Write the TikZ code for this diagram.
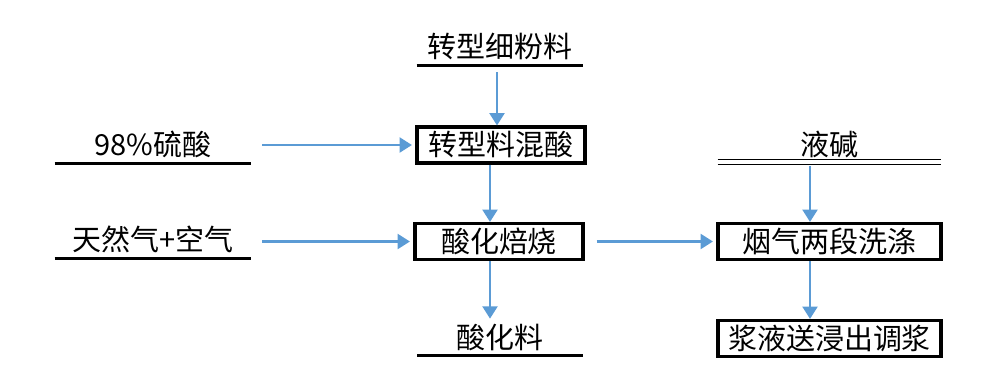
\documentclass[tikz,border=0pt]{standalone}
\usepackage{fontspec}
\setmainfont{Noto Sans CJK SC}
\usepackage{xcolor}
\usetikzlibrary{arrows.meta, positioning, calc}
\definecolor{flowblue}{RGB}{91,155,213}

\begin{document}
\begin{tikzpicture}[x=0.02cm, y=-0.02cm, font=\fontsize{16.5}{18}\selectfont,
    procbox/.style={draw, line width=1.8pt, minimum width=3.36cm, minimum height=0.72cm, inner sep=0pt},
    feed/.style={inner sep=0pt, minimum height=0.76cm},
    flow/.style={flowblue, line width=1.3pt, -{Triangle[width=8.5pt, length=7pt]}},
    underln/.style={line width=1.5pt}]
    \useasboundingbox (0,0) rectangle (999,385);

    % Feed materials (underlined)
    \node[feed, minimum width=3.32cm] (fines) at (500,46) {转型细粉料};
    \node[feed, minimum width=3.92cm] (acid) at (153,144) {98\%硫酸};
    \node[feed, minimum width=3.92cm] (gas) at (153,239) {天然气+空气};
    \node[feed, minimum width=3.30cm, minimum height=0.72cm] (product) at (500,337) {酸化料};
    \node[feed, minimum width=4.46cm, minimum height=0.60cm] (lye) at (829.5,144) {液碱};

    \draw[underln] (fines.south west) -- (fines.south east);
    \draw[underln] (acid.south west) -- (acid.south east);
    \draw[underln] (gas.south west) -- (gas.south east);
    \draw[underln] (product.south west) -- (product.south east);
    \draw[line width=0.7pt] (lye.south west) -- (lye.south east);
    \draw[line width=0.7pt] ([yshift=-0.1cm]lye.south west) -- ([yshift=-0.1cm]lye.south east);

    % Process steps
    \node[procbox] (mix) at (501,145) {转型料混酸};
    \node[procbox] (roast) at (499,241.5) {酸化焙烧};
    \node[procbox, minimum width=4.46cm] (scrub) at (829.5,241.5) {烟气两段洗涤};
    \node[procbox, minimum width=4.46cm] (slurry) at (829.5,338.5) {浆液送浸出调浆};

    % Flow arrows
    \draw[flow] ([xshift=-0.06cm, yshift=-4pt]fines.south) -- ([xshift=-0.06cm]fines.south |- mix.north);
    \draw[flow] ([xshift=-0.22cm]mix.south) -- ([xshift=-0.22cm]mix.south |- roast.north);
    \draw[flow] ([xshift=-0.18cm]roast.south) -- ([xshift=-0.18cm]roast.south |- product.north);
    \draw[flow] ([xshift=0.22cm]acid.east |- mix.west) -- ([xshift=-2pt]mix.west);
    \draw[flow] ([xshift=0.22cm]gas.east |- roast.west) -- ([xshift=-2pt]roast.west);
    \draw[flow] ([xshift=0.24cm]roast.east) -- ([xshift=-2pt]scrub.west);
    \draw[flow] ([xshift=-0.39cm, yshift=-0.14cm]lye.south) -- ([xshift=-0.39cm]lye.south |- scrub.north);
    \draw[flow] ([xshift=-0.39cm]scrub.south) -- ([xshift=-0.39cm]scrub.south |- slurry.north);
\end{tikzpicture}
\end{document}
